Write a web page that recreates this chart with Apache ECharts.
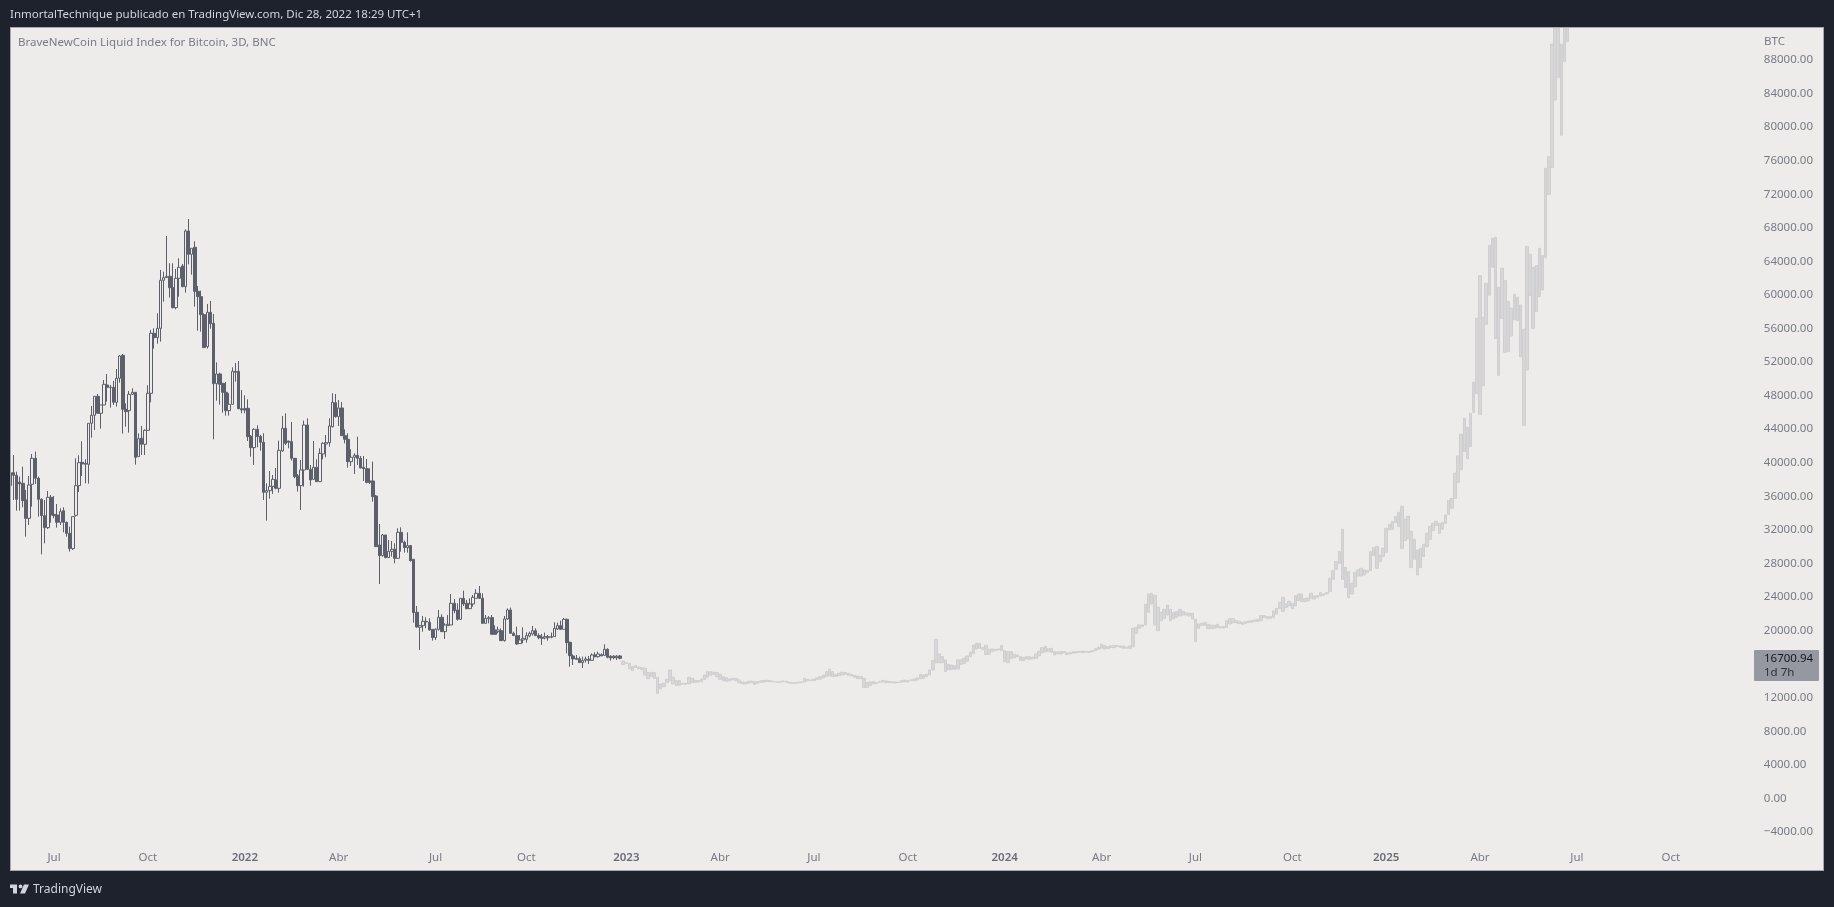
<!DOCTYPE html>
<html><head><meta charset="utf-8">
<style>html,body{margin:0;padding:0;background:#1e222d}#c{width:1834px;height:907px}</style>
<script src="https://cdn.jsdelivr.net/npm/echarts@6/dist/echarts.min.js"></script>
</head><body><div id="c"></div>
<script>
const headerText = 'InmortalTechnique publicado en TradingView.com, Dic 28, 2022 18:29 UTC+1';
const titleText = 'BraveNewCoin Liquid Index for Bitcoin, 3D, BNC';
const firstBar = '2021-05-21', barDays = 3, barSlots = 560;
const tickBars = [14,44,75,105,136,165,197,227,257,287,318,349,379,410,440,470,501,531];
const tickLabels = ['Jul','Oct','2022','Abr','Jul','Oct','2023','Abr','Jul','Oct','2024','Abr','Jul','Oct','2025','Abr','Jul','Oct'];
const lastPrice = 16700.94, lastCountdown = '1d 7h';

const darkOpen = [37277,38825,38508,37714,37555,35569,33384,37436,40534,38151,
35648,33702,32272,35886,33861,33782,32907,34298,32907,31597,
29770,33742,37277,40057,39938,39819,44705,45658,47922,45896,
46889,49272,48994,48994,47207,50067,52807,46373,46214,48160,
48398,40732,42917,42202,43870,48279,55429,54913,56025,61744,
62062,62221,60870,58487,61983,63452,60990,67623,64843,65677,
60434,59798,57653,53840,57931,56620,49431,50583,49471,48398,
46214,46968,50900,50900,46452,46452,46492,43155,41805,43989,
43155,42441,36482,36681,37197,37952,36959,41408,44108,42599,
42520,40534,38428,37277,39144,44506,39223,38032,39461,37753,
41050,42242,42401,44307,47167,45499,46532,43235,42798,40137,
40653,40891,40534,39461,39302,37833,37833,36045,30207,28936,
31398,28697,29452,29690,28618,31716,30524,29889,30127,28499,
22183,20396,20594,21031,20992,20157,19165,20157,21587,19879,
20594,20674,23256,22461,21349,23851,23256,22620,23176,23851,
24447,23851,20872,21428,21547,20078,19879,19998,18807,21388,
22461,19681,19403,18450,18886,18966,19363,19601,19998,19403,
19204,19125,19165,19204,19284,20197,20594,20157,21349,18608,
16980,16702,16662,16185,16463,16583,16463,17099,16900,17139,
17059,17774,16940,16940,16781,16980];
const darkClose = [38825,38508,35648,37476,35490,33384,37356,40534,38151,35648,
33702,32272,35886,33782,33702,32907,34179,32907,31597,29770,
33583,37277,40017,39858,39819,44705,45658,47922,45896,46889,
49352,48994,48954,47207,50067,52728,46373,46095,48160,48398,
40653,42877,42202,43870,48279,55429,54913,56025,61744,62062,
62221,60870,58487,61983,63293,60990,67623,64843,65558,60434,
59798,57653,53721,57931,56581,49431,50583,49352,48398,46214,
46968,50900,50781,46452,46293,46293,43116,41805,43989,43116,
42441,36482,36681,37197,38032,36959,41487,44108,42321,42441,
40534,38349,37277,39144,44506,39223,37952,39461,37753,41130,
42321,42401,44387,47207,45499,46532,43235,42798,40137,40653,
40891,40534,39382,39302,37674,37674,35966,30008,28936,31398,
28697,29452,29690,28618,31716,30524,29889,30127,28340,22143,
20436,20594,21111,21111,20078,19165,20157,21587,19879,20674,
20753,23256,22382,21349,23851,23176,22620,23176,23970,24447,
23851,20872,21468,21547,19562,19562,20078,18807,21388,22461,
19681,19403,18410,18886,19085,19403,19681,19998,19403,19165,
19085,19284,19284,19284,20277,20594,20157,21349,18568,17019,
16623,16583,16185,16423,16623,16463,17099,16900,17218,16980,
17774,16821,16741,16781,16940,16700.94];
const darkLow = [31398,35569,34298,34298,34695,31200,32590,34775,37476,33583,
29094,30405,32113,32868,33384,32272,32590,31715,31200,29412,
29611,33583,36522,38428,37555,37515,42996,43910,45896,44069,
46889,47286,46571,46889,46691,49550,43473,44307,43592,48081,
39779,40732,40931,40931,43870,47207,53602,54197,54436,59202,
62023,59679,58408,58289,59798,60910,60275,63651,62420,58607,
55747,55628,53721,53602,55985,42798,47405,46929,45975,45618,
45618,46968,49669,46373,45896,45896,42599,40732,39739,41845,
41447,35569,33106,35728,36284,36840,36443,41328,42122,41725,
40256,38151,36562,34377,37158,39144,37277,37952,37753,37753,
40415,40653,41924,44188,45380,44387,43235,42321,39421,39620,
38667,39739,39342,37833,37555,37475,35370,30008,25559,28816,
28618,28697,28816,28022,28618,29412,29293,29293,28221,20952,
20356,17695,19879,20277,19998,18807,18886,19998,19879,19006,
20594,20674,22064,21190,21270,22937,22540,22620,22858,23851,
23772,20872,20872,20872,19562,19562,19681,18807,18688,21270,
19681,19363,18291,18450,18489,18569,19204,19403,19363,18966,
18291,18966,18807,19085,19284,20078,20078,20157,17298,15709,
15907,16503,16185,15550,16185,16027,16463,16821,16781,16980,
16980,16702,16423,16583,16503,16583];
const darkHigh = [39938,40931,38945,38349,39541,36761,38428,41050,41328,38349,
35768,35569,36641,36165,36045,35092,34576,34695,32987,32391,
33583,40534,40891,42559,40415,44705,46770,47922,48200,46889,
49868,50583,49272,49749,51179,52847,52966,47088,48557,48875,
48398,43513,44386,43989,49233,55826,56025,57812,62976,62777,
67027,63770,63770,63095,64366,63691,67822,69053,65558,66392,
61069,60513,57812,58924,59282,57733,51973,50742,49471,49630,
48279,51378,51894,52132,48677,48041,47565,43314,44108,44466,
43314,43513,37555,39024,38548,39382,42639,45578,45896,42599,
44864,40534,38666,40335,45022,45301,39739,42599,40415,41725,
42440,43314,45300,48279,48200,47485,47246,43989,43513,41606,
41130,43116,40812,40812,40454,39342,40137,36165,32709,31517,
31398,30802,30683,30405,32193,32312,30723,31716,30207,28499,
22937,20674,21746,21587,21468,20157,20277,22461,21945,20872,
21865,24368,23772,23256,23851,24765,23653,23851,24249,24924,
25321,24447,21865,21746,21865,20634,20475,20277,21746,22659,
22739,19879,20475,19482,20396,19800,19879,20555,20277,19681,
19602,19760,19482,19760,20992,20952,21190,21507,21428,18687,
17178,17099,16900,16900,16900,16980,17298,17416,17496,17298,
18370,17893,17099,17099,17099,17099];

const ghostHigh = [16384,16186,16106,15709,15828,15670,15590,15511,14994,15034,14994,14438,13644,13723,14200,15312,14438,14041,14041,13723,13723,14438,14319,14081,14041,14240,14716,15113,15113,15034,14994,14796,14518,14398,14240,14319,14319,14120,13882,13842,13962,14001,13922,13922,14001,14041,14081,14041,13962,13882,13922,14001,13962,13842,13763,13803,13882,13882,14319,14200,14120,14200,14359,14518,14716,15113,15391,15113,14756,14915,15034,14994,14915,14796,14677,14597,14518,14319,13803,13882,13922,13803,13962,14081,14001,13922,13882,13882,13882,14041,14120,14041,14120,14200,14359,14796,14716,14796,15312,16424,18966,17218,16901,16504,15987,15908,15828,16504,16504,16702,16980,17457,18291,18490,18490,17973,18251,17775,17814,17775,17814,18211,
17616,17497,17497,17179,17099,16901,16821,16901,16901,16821,17219,17536,17973,18132,17854,17894,17497,17457,17497,17497,17338,17417,17497,17497,17536,17536,17497,17497,17616,17854,18013,18370,18211,18092,18172,18211,18211,18172,18172,18013,18172,20277,20356,20674,20674,23137,24368,24448,24209,22779,22184,22541,23057,22541,22184,22263,22541,22263,22104,22064,22064,21349,20793,20873,20952,20754,20634,20634,20754,20476,20476,21191,21429,21429,21191,21111,20992,21071,21151,21191,21270,21349,21786,21786,21667,21667,22342,22660,23335,23971,23177,23494,23256,24170,24368,24368,23812,23891,24448,24130,24170,24527,24368,24527,26235,27149,28221,29413,32074,27546,27030,25639,26950,27228,27427,27228,27149,29413,29889,30008,28936,29810,32193,32670,32987,33583,
34100,34815,33266,33623,31836,30883,29612,29811,30287,31598,32432,32789,33027,32750,32908,33782,35530,35768,38747,40813,43395,45301,44229,45897,49591,57217,62302,57336,61388,65916,66750,66869,60910,63175,61706,59203,58409,60077,59720,58806,55906,65757,64844,63295,63493,65559,64685,75091,76482,89867,96000,94000,89867,94000,96000];
const ghostLow = [15947,16106,15431,15233,15590,15471,15352,14716,14279,14518,14319,12532,13048,13326,13803,14041,13644,13445,13485,13604,13604,13644,13803,13842,13882,13882,14200,14438,14677,14796,14518,14200,14041,13962,14001,14120,14041,13803,13684,13644,13723,13803,13604,13723,13842,13882,13962,13922,13882,13842,13842,13882,13882,13763,13723,13723,13763,13803,13882,14001,14041,14041,14200,14240,14359,14518,14597,14518,14557,14637,14716,14796,14677,14597,14438,14279,14279,13207,13247,13485,13644,13684,13842,13882,13803,13842,13803,13763,13803,13842,13882,13882,14041,14041,14120,14279,14319,14518,14716,15312,16186,16186,16186,15113,15312,15391,15391,15431,15987,16106,16345,16901,17298,17814,17894,17775,17179,17179,17536,17616,17695,17616,
16305,16186,16702,16782,16901,16424,16424,16623,16543,16623,16702,16980,17377,17457,17497,17417,17099,17219,17219,17377,17139,17219,17298,17338,17417,17377,17457,17417,17497,17616,17775,17894,17814,17894,17973,17973,18092,18013,17894,17894,17894,18092,19681,20277,20476,20674,22184,23177,20674,19999,21191,21468,21866,21191,21389,21548,21747,21866,21866,21747,21389,18688,20277,20595,20634,20237,20237,20277,20356,20317,20317,20396,20793,20952,20952,20833,20754,20873,20952,20992,21071,21111,21191,21548,21429,21468,21588,21985,22660,22303,22779,22938,22620,22938,23574,23455,23455,23534,23852,23772,23971,24130,24209,24368,24646,26116,27307,28022,26116,25123,23931,24368,25242,26513,26513,26632,26910,27149,28936,27427,28221,28817,29333,31994,32074,32868,
32392,29770,30724,31002,27507,28499,26633,27507,28818,30009,30883,31916,32551,31598,32075,32789,33862,34577,35768,37675,39184,41329,40495,41925,46016,48280,45778,49195,56502,59958,63295,54834,50425,57217,53166,53245,55112,57019,56939,52650,44467,51061,59958,56025,58012,59799,60594,64486,71993,75211,83234,85895,79024,87802,90185];

const plotBg = '#edecea', panel = '#1e222d', edge = '#a5a8ae', darkInk = '#5d606b',
      ghostFill = '#d8d7d7', ghostEdge = '#cfced0', axisInk = '#787b86', font = 'Noto Sans';

const start = Date.parse(firstBar + 'T00:00:00Z');
const categories = Array.from({length: barSlots}, (_, i) =>
  new Date(start + i * barDays * 864e5).toISOString().slice(0, 10));
const darkData = categories.map((_, i) => i < darkOpen.length
  ? [darkOpen[i], darkClose[i], darkLow[i], darkHigh[i]] : '-');
const ghostData = categories.map((_, i) => {
  const g = i - darkOpen.length;
  return g >= 0 && g < ghostHigh.length ? [ghostLow[g], ghostHigh[g], ghostLow[g], ghostHigh[g]] : '-';
});

const chart = echarts.init(document.getElementById('c'), null, {renderer: 'canvas'});
const txt = (x, y, text, fill, size) => ({type: 'text', z: 200, silent: true, x, y,
  style: {text, fill, font: `${size || 11.5}px "${font}"`, verticalAlign: 'middle'}});
const band = (x, y, width, height, fill) => ({type: 'rect', z: 100, silent: true,
  shape: {x, y, width, height}, style: {fill}});

const py0 = 798.5 - lastPrice * 0.008392;

chart.setOption({
  animation: false,
  backgroundColor: plotBg,
  grid: {left: 8.74, right: 74.16, top: 26.4, height: 839.2, containLabel: false},
  xAxis: {
    type: 'category', data: categories, boundaryGap: true,
    axisLine: {show: false}, axisTick: {show: false}, splitLine: {show: false},
    axisLabel: {
      inside: true, margin: 1.5, color: axisInk, fontFamily: font, fontSize: 11.5,
      interval: i => tickBars.includes(i), hideOverlap: false,
      formatter: (v, i) => {
        const t = tickBars.indexOf(i);
        if (t < 0) return '';
        return /^\d{4}$/.test(tickLabels[t]) ? `{y|${tickLabels[t]}}` : tickLabels[t];
      },
      rich: {y: {fontWeight: 600, color: '#6a6d78', fontFamily: font, fontSize: 11.5}}
    }
  },
  yAxis: {
    type: 'value', position: 'right', min: -8000, max: 92000, interval: 4000,
    axisLine: {show: false}, axisTick: {show: false}, splitLine: {show: false},
    axisLabel: {
      margin: 4, color: axisInk, fontFamily: font, fontSize: 11.5, align: 'left',
      formatter: v => (v === 92000 || v === -8000) ? '' : (v < 0 ? '\u2212' + Math.abs(v).toFixed(2) : v.toFixed(2))
    }
  },
  series: [
    {type: 'candlestick', name: 'Ghost', data: ghostData, barWidth: 3, z: 2,
     itemStyle: {color: ghostFill, color0: ghostFill, borderColor: ghostEdge, borderColor0: ghostEdge, borderWidth: 1}},
    {type: 'candlestick', name: 'BLX', data: darkData, barWidth: 3, z: 3,
     itemStyle: {color: plotBg, color0: darkInk, borderColor: darkInk, borderColor0: darkInk, borderWidth: 1}}
  ],
  graphic: [
    band(0, 0, 1834, 27, panel), band(0, 0, 10, 907, panel),
    band(1824, 0, 10, 907, panel), band(0, 871, 1834, 36, panel),
    band(10, 27, 1, 844, edge), band(10, 27, 1814, 1, edge),
    band(1823, 27, 1, 844, edge), band(10, 870, 1814, 1, edge),
    {type: 'rect', z: 150, silent: true, shape: {x: 1754, y: py0 - 8.3, width: 65, height: 31, r: 1}, style: {fill: '#9598a1'}},
    txt(1764, py0 + 0.5, lastPrice.toFixed(2), '#131722'),
    txt(1764, py0 + 14.5, lastCountdown, '#2a2e39'),
    txt(10, 14.5, headerText, '#d1d4dc'),
    txt(18, 42.5, titleText, axisInk),
    txt(1764, 41.5, 'BTC', axisInk),
    txt(33, 889.5, 'TradingView', '#d1d4dc', 12),
    {type: 'polygon', z: 200, silent: true, style: {fill: '#d1d4dc'},
     shape: {points: [[10,884.5],[17,884.5],[17,893.5],[13,893.5],[13,888],[10,888]]}},
    {type: 'polygon', z: 200, silent: true, style: {fill: '#d1d4dc'},
     shape: {points: [[24,884.5],[29,884.5],[25,893.5],[20,893.5]]}},
    {type: 'circle', z: 200, silent: true, style: {fill: '#d1d4dc'}, shape: {cx: 20.5, cy: 886.4, r: 1.9}}
  ]
});
</script></body></html>
